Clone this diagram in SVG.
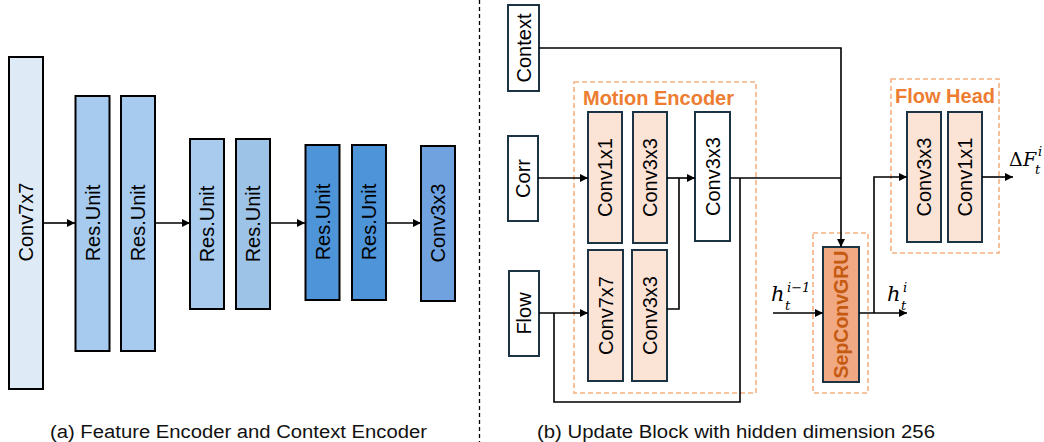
<svg xmlns="http://www.w3.org/2000/svg" width="1044" height="442" viewBox="0 0 1044 442">
  <defs>
    <marker id="arrow" viewBox="0 0 10 10" refX="10" refY="5" markerWidth="8" markerHeight="8" markerUnits="userSpaceOnUse" orient="auto">
      <path d="M0,0 L10,5 L0,10 z" fill="#000"/>
    </marker>
    <style>
      .blk { stroke: #000; stroke-width: 2; }
      .nd { stroke: #1c3344; stroke-width: 2; }
      .lbl { font-family: "Liberation Sans", Arial, sans-serif; font-size: 20px; fill: #000; text-anchor: middle; dominant-baseline: central; }
      .grp { fill: none; stroke: #f4b183; stroke-width: 1.6; stroke-dasharray: 5 3; }
      .grpT { font-family: "Liberation Sans", Arial, sans-serif; font-weight: bold; font-size: 19.5px; fill: #ed7d31; }
      .wire { fill: none; stroke: #000; stroke-width: 1.6; }
      .cap { font-family: "Liberation Sans", Arial, sans-serif; font-size: 18px; fill: #111; }
      .math { font-family: "DejaVu Serif", "Liberation Serif", serif; font-style: italic; fill: #000; }
      .pink { fill: #fbe3d6; }
    </style>
  </defs>

  <rect width="1044" height="442" fill="#fff"/>

  <!-- divider between the two panels -->
  <line x1="479.5" y1="0" x2="479.5" y2="442" stroke="#000" stroke-width="1.3" stroke-dasharray="4 3"/>

  <!-- ===== (a) Feature / Context encoder ===== -->
  <g id="enc-conv7x7"><rect class="blk" x="9" y="57" width="34" height="332" fill="#deebf7"/><text class="lbl" transform="translate(26,222) rotate(-90)">Conv7x7</text></g>
  <g id="enc-res1"><rect class="blk" x="75.5" y="96" width="34" height="255" fill="#a6cbef"/><text class="lbl" transform="translate(92.5,223) rotate(-90)">Res.Unit</text></g>
  <g id="enc-res2"><rect class="blk" x="121" y="96" width="34" height="255" fill="#a6cbef"/><text class="lbl" transform="translate(138,223) rotate(-90)">Res.Unit</text></g>
  <g id="enc-res3"><rect class="blk" x="190" y="139" width="34" height="170" fill="#a8cbee"/><text class="lbl" transform="translate(207,224) rotate(-90)">Res.Unit</text></g>
  <g id="enc-res4"><rect class="blk" x="236" y="139" width="34" height="170" fill="#9dc3e6"/><text class="lbl" transform="translate(253,224) rotate(-90)">Res.Unit</text></g>
  <g id="enc-res5"><rect class="blk" x="305.5" y="145" width="34" height="155" fill="#4e94d8"/><text class="lbl" transform="translate(322.5,222) rotate(-90)">Res.Unit</text></g>
  <g id="enc-res6"><rect class="blk" x="352" y="145" width="34" height="155" fill="#4e94d8"/><text class="lbl" transform="translate(369,222) rotate(-90)">Res.Unit</text></g>
  <g id="enc-conv3x3"><rect class="blk" x="421" y="146" width="34" height="155" fill="#6fa2df"/><text class="lbl" transform="translate(438,223) rotate(-90)">Conv3x3</text></g>

  <!-- ===== (b) Update block ===== -->
  <g id="motion-encoder-group">
    <rect class="grp" x="574" y="82" width="182" height="311"/>
    <text class="grpT" x="583" y="105" textLength="151" lengthAdjust="spacingAndGlyphs">Motion Encoder</text>
  </g>
  <g id="flow-head-group">
    <rect class="grp" x="891" y="79" width="108" height="174"/>
    <text class="grpT" x="895" y="103" textLength="100" lengthAdjust="spacingAndGlyphs">Flow Head</text>
  </g>
  <g id="gru-group">
    <rect class="grp" x="813" y="233" width="55" height="160"/>
  </g>

  <g id="in-context"><rect class="nd" x="508" y="5" width="31" height="86" fill="#fff"/><text class="lbl" transform="translate(523.5,48) rotate(-90)">Context</text></g>
  <g id="in-corr"><rect class="nd" x="508" y="136" width="30" height="85" fill="#fff"/><text class="lbl" transform="translate(523,178.5) rotate(-90)">Corr</text></g>
  <g id="in-flow"><rect class="nd" x="509" y="271" width="30" height="85" fill="#fff"/><text class="lbl" transform="translate(524,313.5) rotate(-90)">Flow</text></g>

  <g id="me-conv1x1"><rect class="nd pink" x="588" y="112" width="34" height="131"/><text class="lbl" transform="translate(605,177.5) rotate(-90)">Conv1x1</text></g>
  <g id="me-conv3x3-a"><rect class="nd pink" x="633" y="112" width="34" height="131"/><text class="lbl" transform="translate(650,177.5) rotate(-90)">Conv3x3</text></g>
  <g id="me-conv7x7"><rect class="nd pink" x="588" y="250" width="35" height="131"/><text class="lbl" transform="translate(605.5,315.5) rotate(-90)">Conv7x7</text></g>
  <g id="me-conv3x3-b"><rect class="nd pink" x="632" y="250" width="35" height="131"/><text class="lbl" transform="translate(649.5,315.5) rotate(-90)">Conv3x3</text></g>
  <g id="me-conv3x3-out"><rect class="nd" x="695" y="112" width="35" height="129" fill="#fff"/><text class="lbl" transform="translate(712.5,176.5) rotate(-90)">Conv3x3</text></g>

  <g id="sep-conv-gru"><rect class="nd" x="823" y="247" width="36" height="135" fill="#f1a983"/><text class="lbl" style="font-weight:bold;font-size:19.5px;fill:#c55a11" transform="translate(841,314.5) rotate(-90)">SepConvGRU</text></g>

  <g id="fh-conv3x3"><rect class="nd pink" x="907" y="112" width="34" height="130"/><text class="lbl" transform="translate(924,177) rotate(-90)">Conv3x3</text></g>
  <g id="fh-conv1x1"><rect class="nd pink" x="948" y="112" width="34" height="130"/><text class="lbl" transform="translate(965,177) rotate(-90)">Conv1x1</text></g>

  <!-- connectors -->
  <g id="connectors">
    <!-- encoder chain -->
    <line class="wire" x1="43" y1="223" x2="75" y2="223" marker-end="url(#arrow)"/>
    <line class="wire" x1="155" y1="223" x2="190" y2="223" marker-end="url(#arrow)"/>
    <line class="wire" x1="270" y1="223" x2="305" y2="223" marker-end="url(#arrow)"/>
    <line class="wire" x1="386" y1="223" x2="421" y2="223" marker-end="url(#arrow)"/>

    <!-- update block -->
    <path class="wire" d="M539,48 H841 V247" marker-end="url(#arrow)"/>
    <line class="wire" x1="538" y1="178" x2="588" y2="178" marker-end="url(#arrow)"/>
    <line class="wire" x1="667" y1="178" x2="695" y2="178" marker-end="url(#arrow)"/>
    <path class="wire" d="M667,309 H679 V178"/>
    <line class="wire" x1="539" y1="313" x2="588" y2="313" marker-end="url(#arrow)"/>
    <path class="wire" d="M554,313 V402 H740 V178"/>
    <line class="wire" x1="730" y1="178" x2="841" y2="178"/>
    <line class="wire" x1="773" y1="313" x2="823" y2="313" marker-end="url(#arrow)"/>
    <line class="wire" x1="859" y1="313" x2="907" y2="313" marker-end="url(#arrow)"/>
    <path class="wire" d="M874,313 V177 H907" marker-end="url(#arrow)"/>
    <line class="wire" x1="982" y1="177" x2="1013" y2="177" marker-end="url(#arrow)"/>
  </g>

  <!-- state and output symbols -->
  <g id="sym-h-prev">
    <text class="math" x="771" y="301" font-size="21">h</text>
    <text class="math" x="785" y="310" font-size="13">t</text>
    <text class="math" x="787" y="292" font-size="13">i−1</text>
  </g>
  <g id="sym-h">
    <text class="math" x="887" y="301" font-size="21">h</text>
    <text class="math" x="901" y="310" font-size="13">t</text>
    <text class="math" x="903" y="292" font-size="13">i</text>
  </g>
  <g id="sym-delta-f">
    <text class="math" x="1009" y="166" font-size="19" style="font-style:normal">Δ</text>
    <text class="math" x="1023" y="166" font-size="19">F</text>
    <text class="math" x="1035" y="174" font-size="13">t</text>
    <text class="math" x="1038" y="156" font-size="13">i</text>
  </g>

  <!-- captions -->
  <text class="cap" x="50" y="438" textLength="377" lengthAdjust="spacingAndGlyphs">(a) Feature Encoder and Context Encoder</text>
  <text class="cap" x="537" y="438" textLength="398" lengthAdjust="spacingAndGlyphs">(b) Update Block with hidden dimension 256</text>
</svg>
